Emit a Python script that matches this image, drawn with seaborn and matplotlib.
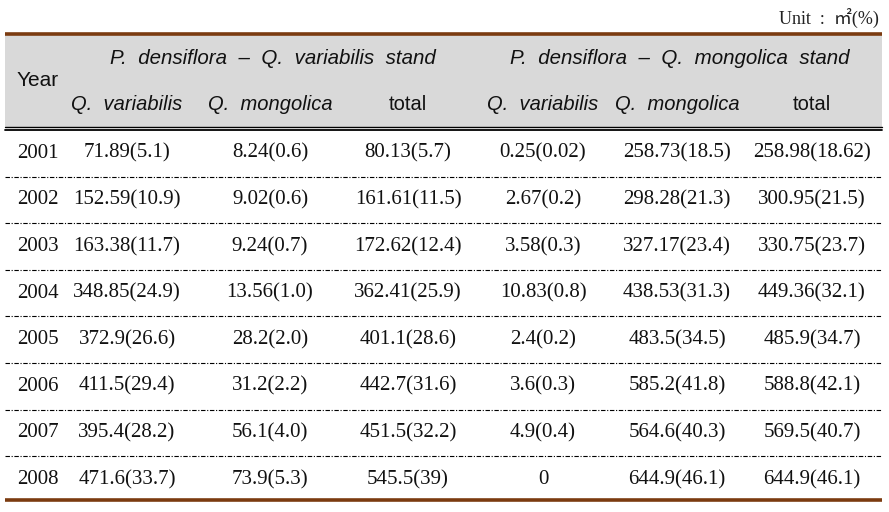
import matplotlib
matplotlib.use("Agg")
import matplotlib.pyplot as plt
import seaborn as sns
import pandas as pd

# Table data
years = [2001, 2002, 2003, 2004, 2005, 2006, 2007, 2008]
pv_variabilis = ["71.89(5.1)", "152.59(10.9)", "163.38(11.7)", "348.85(24.9)",
                 "372.9(26.6)", "411.5(29.4)", "395.4(28.2)", "471.6(33.7)"]
pv_mongolica = ["8.24(0.6)", "9.02(0.6)", "9.24(0.7)", "13.56(1.0)",
                "28.2(2.0)", "31.2(2.2)", "56.1(4.0)", "73.9(5.3)"]
pv_total = ["80.13(5.7)", "161.61(11.5)", "172.62(12.4)", "362.41(25.9)",
            "401.1(28.6)", "442.7(31.6)", "451.5(32.2)", "545.5(39)"]
pm_variabilis = ["0.25(0.02)", "2.67(0.2)", "3.58(0.3)", "10.83(0.8)",
                 "2.4(0.2)", "3.6(0.3)", "4.9(0.4)", "0"]
pm_mongolica = ["258.73(18.5)", "298.28(21.3)", "327.17(23.4)", "438.53(31.3)",
                "483.5(34.5)", "585.2(41.8)", "564.6(40.3)", "644.9(46.1)"]
pm_total = ["258.98(18.62)", "300.95(21.5)", "330.75(23.7)", "449.36(32.1)",
            "485.9(34.7)", "588.8(42.1)", "569.5(40.7)", "644.9(46.1)"]

group_titles = ["P.  densiflora  –  Q.  variabilis  stand",
                "P.  densiflora  –  Q.  mongolica  stand"]
sub_titles = ["Q.  variabilis", "Q.  mongolica", "total"]

df = pd.DataFrame({
    "Year": years,
    "pv_var": pv_variabilis, "pv_mon": pv_mongolica, "pv_tot": pv_total,
    "pm_var": pm_variabilis, "pm_mon": pm_mongolica, "pm_tot": pm_total,
})

sns.set_theme(style="white")

brown = "#7b3b10"
grey = "#d9d9d9"

fig = plt.figure(figsize=(8.89, 5.12), dpi=100)
ax = fig.add_axes([0, 0, 1, 1])
ax.set_xlim(0, 889)
ax.set_ylim(512, 0)
ax.axis("off")

# layout (pixels)
left, right = 5, 882
col_x = [38, 127, 270, 408, 543, 677, 812]
row_top = 130
row_h = 46.6

serif = ["Liberation Serif", "DejaVu Serif"]
sans = ["Liberation Sans", "DejaVu Sans"]

# unit label
ax.text(879, 18, "Unit  :  ㎡(%)", ha="right", va="center", fontsize=13,
        family=["Liberation Serif", "Noto Sans CJK KR", "DejaVu Sans"], color="#222222")

# header band
ax.fill_between([left, right], 35, 127, color=grey, lw=0)
ax.plot([left, right], [33.5, 33.5], color=brown, lw=2.6, solid_capstyle="butt")
ax.plot([left, right], [127, 127], color="black", lw=1.0)
ax.plot([left, right], [130, 130], color="black", lw=1.3)

ax.text(col_x[0], 81, "Year", ha="center", va="center", fontsize=15, family=sans, color="#111111")
for g, title in enumerate(group_titles):
    cx = col_x[2 + 3 * g]
    ax.text(cx + 3, 58, title, ha="center", va="center", fontsize=14.8,
            family=sans, style="italic", color="#111111")
    for k, st in enumerate(sub_titles):
        ax.text(col_x[1 + 3 * g + k], 105, st, ha="center", va="center", fontsize=14.5,
                family=sans, style="normal" if st == "total" else "italic", color="#111111")

# body rows
cols = ["Year", "pv_var", "pv_mon", "pv_tot", "pm_var", "pm_mon", "pm_tot"]
for i, row in df.iterrows():
    yc = row_top + row_h * (i + 0.5)
    for j, c in enumerate(cols):
        ax.text(col_x[j], yc, str(row[c]), ha="center", va="center",
                fontsize=15, family=serif, color="#111111")
    if i < len(df) - 1:
        ax.plot([left, right], [row_top + row_h * (i + 1)] * 2, color="black",
                lw=0.8, linestyle=(0, (4, 1.5, 1, 1.5)))

ax.plot([left, right], [500, 500], color=brown, lw=2.6, solid_capstyle="butt")

fig.savefig("out.png", dpi=100)
